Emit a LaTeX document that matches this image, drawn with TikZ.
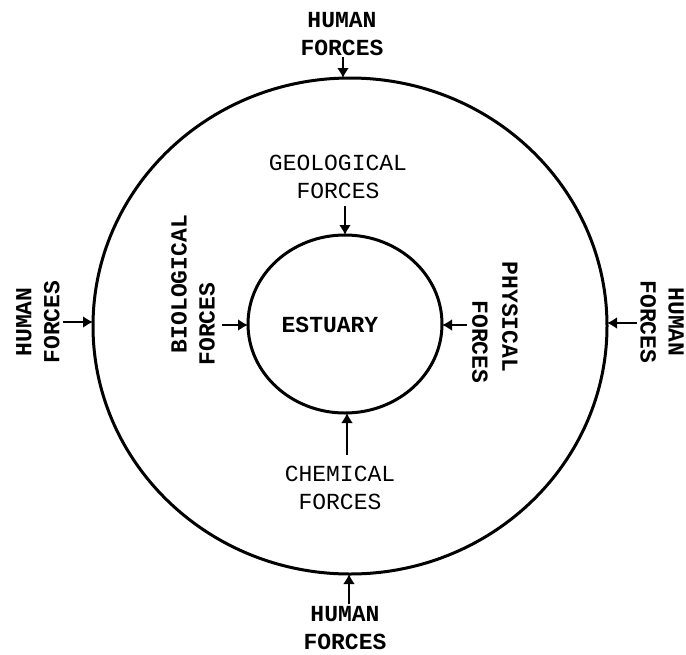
\documentclass[tikz,border=0pt]{standalone}
\usepackage{fontspec}
\newfontfamily\tw{Liberation Mono}
\usetikzlibrary{shapes.geometric,arrows.meta}
\begin{document}
\begin{tikzpicture}[x=1pt,y=1pt,
  ring/.style={ellipse,draw,line width=3pt,inner sep=0pt,outer sep=0pt},
  lbl/.style={align=center,inner sep=0pt,font=\tw\fontsize{23}{28}\selectfont},
  blbl/.style={lbl,font=\tw\bfseries\fontsize{23}{28}\selectfont},
  force/.style={line width=2.5pt,-{Latex[length=10pt,width=12pt]}}]
\useasboundingbox (0,0) rectangle (686,-654);
\node[ring,minimum width=514pt,minimum height=496pt] (outer) at (350,-326) {};
\node[ring,minimum width=194pt,minimum height=178pt] (inner) at (345,-324) {};
\node[blbl] (est) at (330,-325) {ESTUARY};
% human forces
\node[blbl] (htop) at (342,-34) {HUMAN\\FORCES};
\node[blbl] (hbot) at (345,-628) {HUMAN\\FORCES};
\node[blbl,rotate=90] (hleft) at (38,-322) {HUMAN\\FORCES};
\node[blbl,rotate=-90] (hright) at (662,-322) {HUMAN\\FORCES};
\coordinate (shtop) at (343,-57);
\coordinate (shbot) at (349,-604);
\coordinate (shleft) at (63,-322);
\coordinate (shright) at (637,-323);
\draw[force] (shtop) -- (shtop |- outer.north);
\draw[force] (shbot) -- (shbot |- outer.south);
\draw[force] (shleft) -- (shleft -| outer.west);
\draw[force] (shright) -- (shright -| outer.east);
% inner forces
\node[lbl] (geo) at (338,-177) {GEOLOGICAL\\FORCES};
\node[lbl] (chem) at (340,-488) {CHEMICAL\\FORCES};
\node[blbl,rotate=90] (bio1) at (179,-284) {BIOLOGICAL};
\node[blbl,rotate=90] (bio2) at (207,-324) {FORCES};
\node[blbl,rotate=-90] (phys1) at (510,-317) {PHYSICAL};
\node[blbl,rotate=-90] (phys2) at (480,-342) {FORCES};
\coordinate (sgeo) at (345,-206);
\coordinate (schem) at (347,-455);
\coordinate (sbio) at (222,-325);
\coordinate (sphys) at (467,-325);
\draw[force] (sgeo) -- (sgeo |- inner.north);
\draw[force] (schem) -- (schem |- inner.south);
\draw[force] (sbio) -- (sbio -| inner.west);
\draw[force] (sphys) -- (sphys -| inner.east);
\end{tikzpicture}
\end{document}
